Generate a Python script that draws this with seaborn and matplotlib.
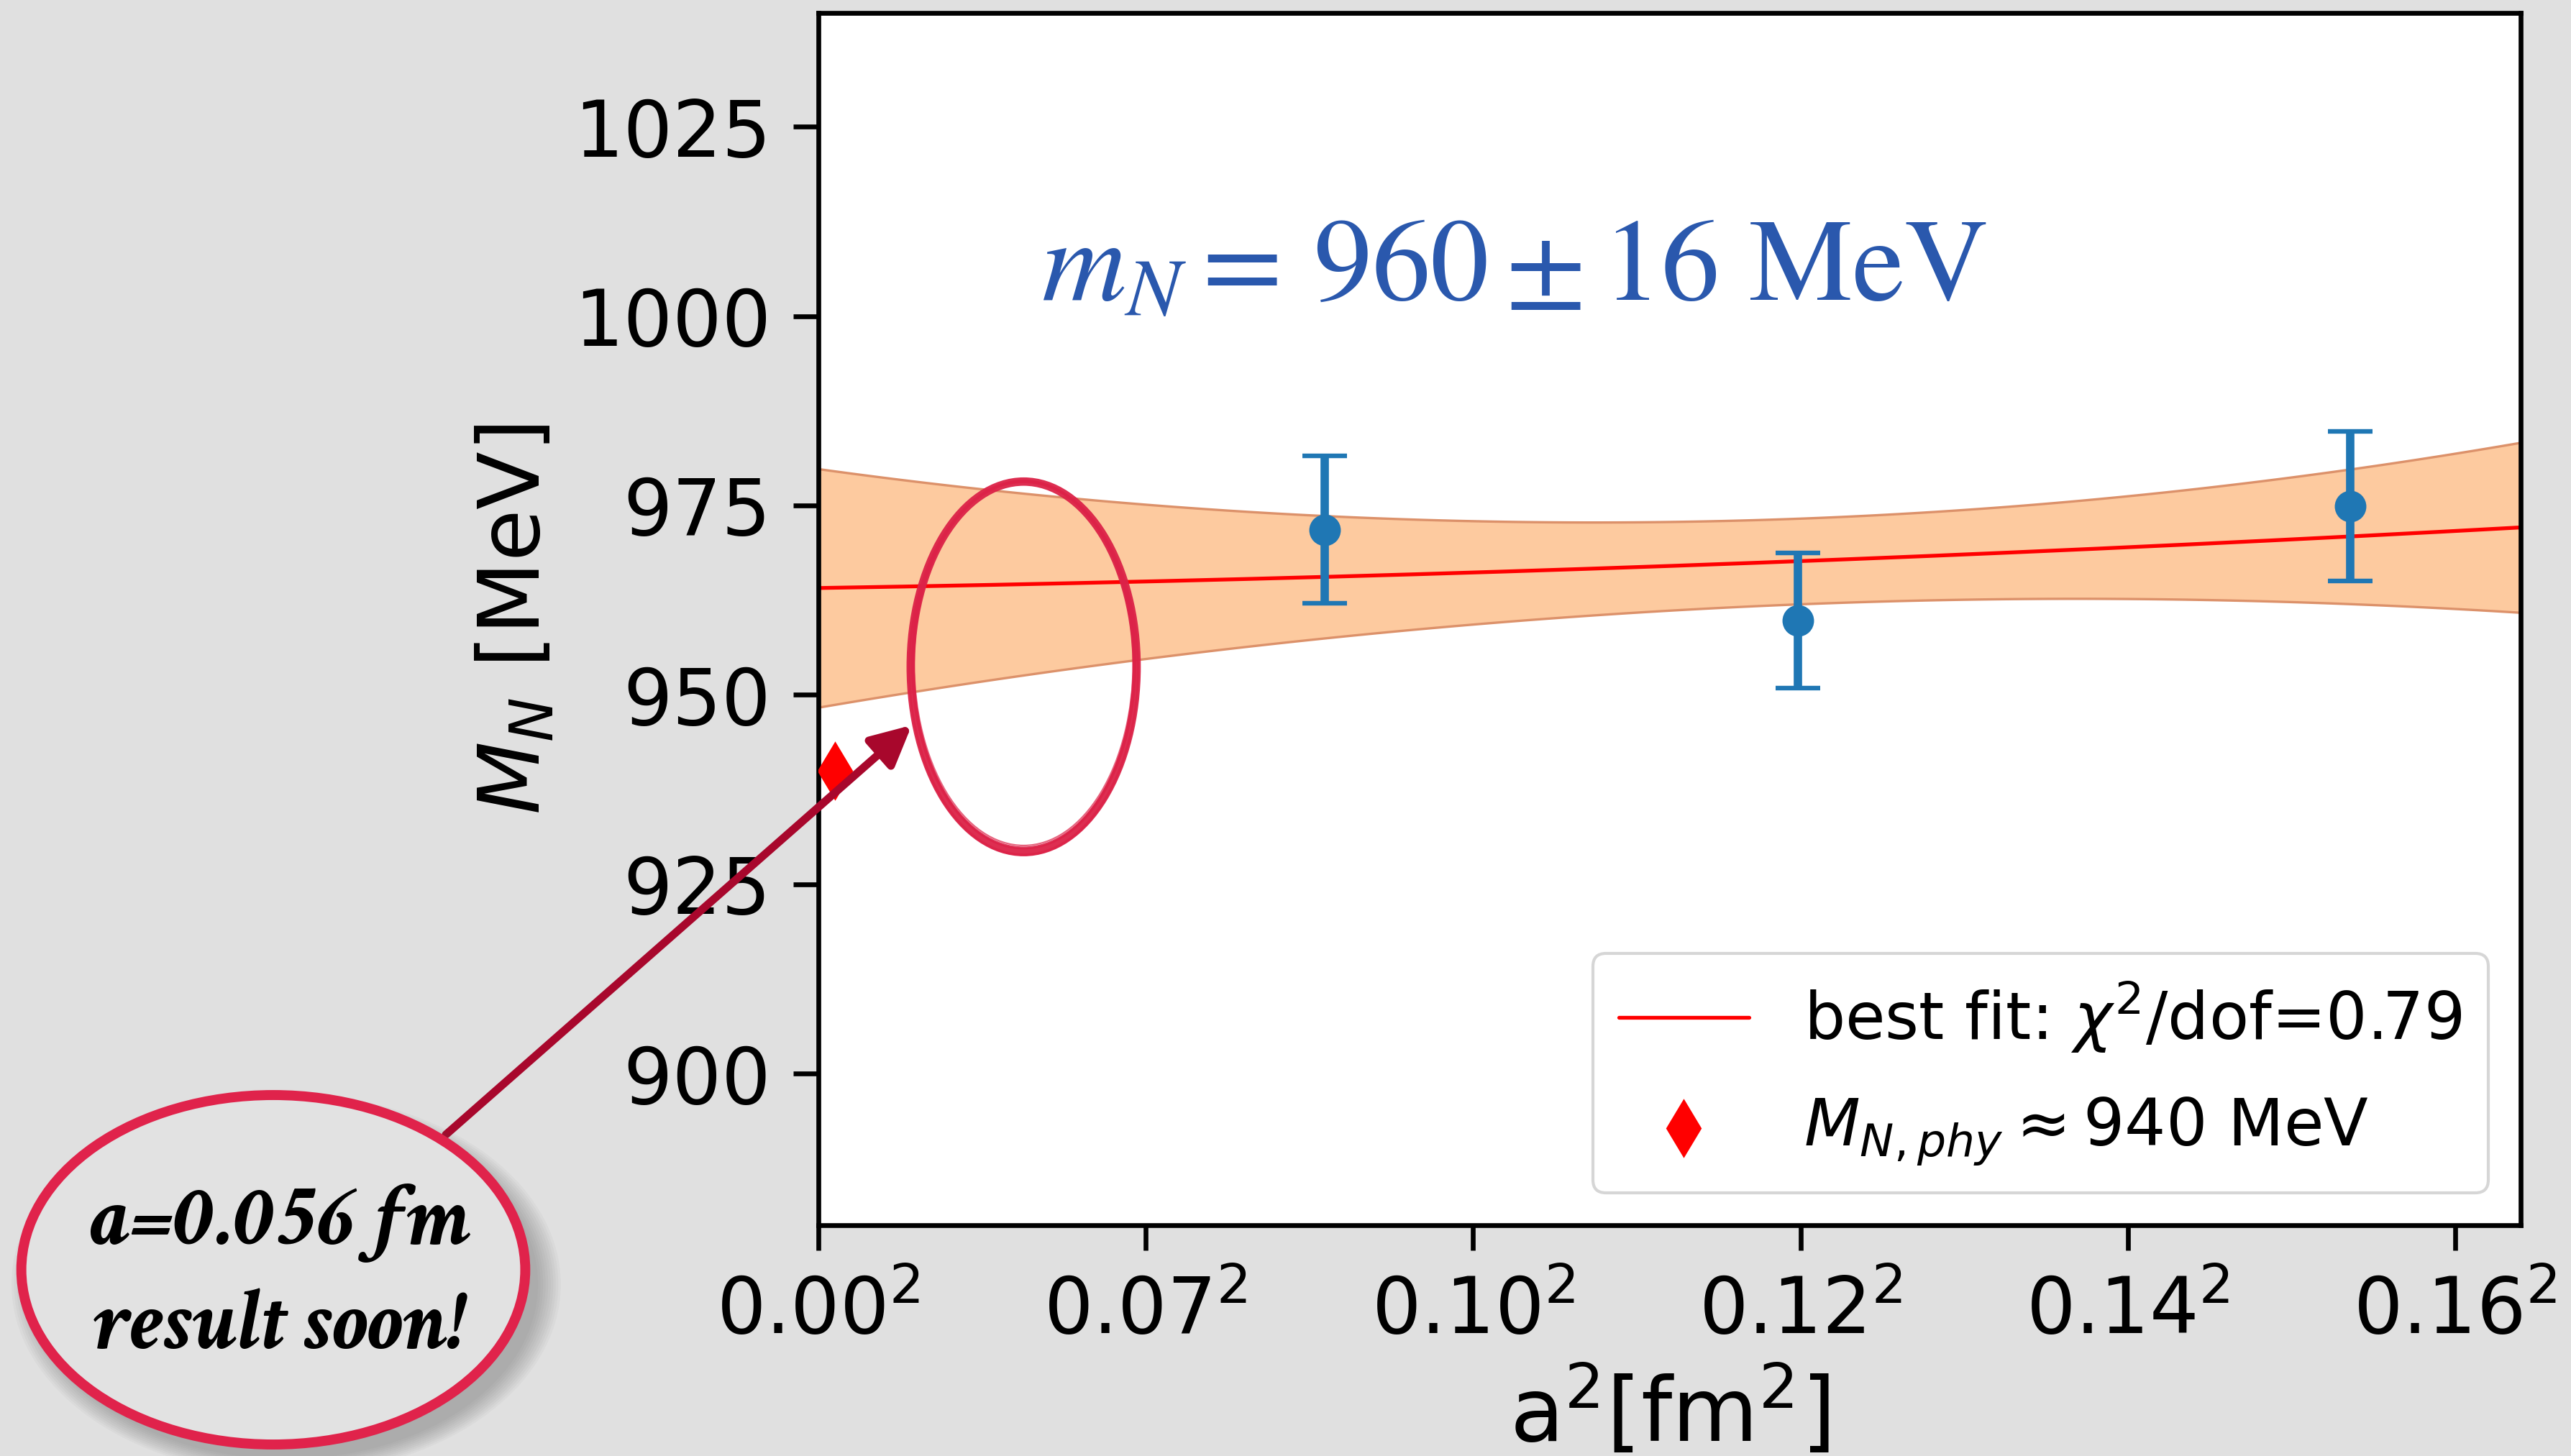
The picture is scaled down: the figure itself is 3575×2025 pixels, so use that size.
import numpy as np
import pandas as pd
import matplotlib
matplotlib.use("Agg")
import matplotlib.pyplot as plt
from matplotlib.patches import Ellipse
import seaborn as sns

# ---- lattice data: nucleon mass vs squared lattice spacing ----
a2_fm2 = [0.00773, 0.01496, 0.02340]        # a^2 [fm^2]
mass_mev = [971.8, 959.8, 974.9]             # M_N [MeV]
mass_err = [9.7, 8.9, 9.9]                   # statistical errors [MeV]

# physical nucleon mass marker
phys_a2 = [0.00025]
phys_mass = [940.0]

# continuum fit M(a^2) = c0 + c1*a^2 + c2*a^4 with its covariance
fit_params = [964.1, 140.5, 6426.0]
fit_cov = [[247.675, -20978.7, 0.0],
           [-20978.7, 3.1795e6, -5.98745e7],
           [0.0, -5.98745e7, 2.02296e9]]
fit_label = r"best fit: $\chi^2$/dof=0.79"
phys_label = r"$M_{N,phy} \approx 940$ MeV"
result_text = r"$m_N = \,960 \pm 16$ MeV"

# upcoming ensemble
new_spacing_fm = 0.056
callout_lines = ["a=0.056 fm", "result soon!"]

x_ticks = [0.0, 0.005, 0.010, 0.015, 0.020, 0.025]
x_tick_labels = ["0.00$^2$", "0.07$^2$", "0.10$^2$", "0.12$^2$", "0.14$^2$", "0.16$^2$"]
y_ticks = [900, 925, 950, 975, 1000, 1025]

BG = "#e0e0e0"
sns.set_theme(style="ticks", rc={
    "axes.edgecolor": "black", "axes.labelcolor": "black", "text.color": "black",
    "xtick.color": "black", "ytick.color": "black",
    "axes.linewidth": 2.4,
    "xtick.major.size": 12.6, "ytick.major.size": 12.6,
    "xtick.major.width": 2.4, "ytick.major.width": 2.4,
    "mathtext.fontset": "dejavusans",
})
plt.rcParams["font.family"] = ["DejaVu Sans"]

fig = plt.figure(figsize=(17.875, 10.125), dpi=200, facecolor=BG)
ax = fig.add_axes([0.3183, 0.1585, 0.6621, 0.8326])
ax.set_facecolor("white")

# fit curve and 1-sigma band
xs = np.linspace(0.0, 0.026, 400)
J = np.vstack([np.ones_like(xs), xs, xs ** 2]).T
mean = J @ np.array(fit_params)
var = np.einsum("ij,jk,ik->i", J, np.array(fit_cov), J)
sig = np.sqrt(np.clip(var, 0, None))
ax.fill_between(xs, mean - sig, mean + sig, facecolor="#fdca9f",
                edgecolor="#dc916a", linewidth=1.2, zorder=1)

fit_df = pd.DataFrame({"a2": xs, "mass": mean})
sns.lineplot(data=fit_df, x="a2", y="mass", color="red", linewidth=1.9,
             label=fit_label, ax=ax, zorder=2)

ax.errorbar(a2_fm2, mass_mev, yerr=mass_err, fmt="o", color="#1f77b4",
            markersize=14.8, elinewidth=4.2, capsize=11.3, capthick=2.3, zorder=3)

sns.scatterplot(x=phys_a2, y=phys_mass, marker="d", s=441, color="red",
                linewidth=0, label=phys_label, ax=ax, zorder=4)

ax.set_xlim(0.0, 0.026)
ax.set_ylim(880, 1040)
ax.set_xticks(x_ticks)
ax.set_xticklabels(x_tick_labels)
ax.set_yticks(y_ticks)
ax.tick_params(axis="both", labelsize=38.8)
ax.tick_params(axis="y", pad=11)
ax.tick_params(axis="x", pad=12)
ax.set_xlabel(r"a$^2$[fm$^2$]", fontsize=44.3, labelpad=8)
ax.set_ylabel(r"$M_N$ [MeV]", fontsize=42.5, labelpad=8)

handles, labels = ax.get_legend_handles_labels()
leg = ax.legend(handles, labels, loc="lower right", fontsize=32.5, framealpha=0.8,
                edgecolor="0.8", fancybox=True, borderaxespad=0.5, borderpad=0.4,
                labelspacing=0.62, handlelength=2.0, handletextpad=0.85,
                scatterpoints=1)
leg.get_frame().set_linewidth(1.5)

ax.text(0.131, 0.7633, result_text, transform=ax.transAxes, ha="left", va="baseline",
        fontsize=58.5, color="#2a58ad", family="STIXGeneral", math_fontfamily="stix")

# hand-drawn highlight around the a = 0.056 fm point
ring = "#dc2248"
cx, cy = new_spacing_fm ** 2, 953.7
for dw, dh, dy, lw, al in [(1.0, 1.0, 0.0, 4.2, 0.95),
                           (0.985, 0.99, 0.3, 1.4, 0.9),
                           (1.012, 1.006, -0.2, 1.1, 0.8),
                           (0.97, 0.985, 0.5, 0.8, 0.7)]:
    ax.add_patch(Ellipse((cx, cy + dy), 0.00345 * dw, 48.9 * dh, fill=False,
                         edgecolor=ring, linewidth=lw, alpha=al, zorder=6))

# callout bubble with soft shadow
cxf, cyf, wf, hf = 0.1063, 0.1279, 0.196, 0.24
for k in range(10):
    grow = 1.0 + 0.01 * k
    fig.add_artist(Ellipse((cxf + 0.005, cyf - 0.010), wf * grow, hf * grow,
                           transform=fig.transFigure, facecolor="#5a5a5a",
                           edgecolor="none", alpha=0.045, zorder=2))
fig.add_artist(Ellipse((cxf, cyf), wf, hf, transform=fig.transFigure,
                       facecolor="#e2e2e2", edgecolor="#e0234b", linewidth=5.0, zorder=3))
for dw, dh, lw, al in [(0.99, 0.985, 1.2, 0.8), (1.008, 1.01, 1.0, 0.7)]:
    fig.add_artist(Ellipse((cxf, cyf), wf * dw, hf * dh, transform=fig.transFigure,
                           fill=False, edgecolor="#e0234b", linewidth=lw, alpha=al, zorder=3))

callout_font = dict(ha="center", va="baseline", fontsize=44, family="Crimson Text",
                    weight="bold", style="italic", zorder=4)
fig.text(0.109, 0.1457, callout_lines[0], **callout_font)
fig.text(0.109, 0.0741, callout_lines[1], **callout_font)

# arrow from the bubble to the highlighted region
arr = ax.annotate("", xy=(0.001427, 946.0), xycoords="data",
                  xytext=(0.1734, 0.2207), textcoords="figure fraction",
                  arrowprops=dict(arrowstyle="-|>", color="#a8072c", lw=4.0,
                                  mutation_scale=42, shrinkA=0, shrinkB=0),
                  annotation_clip=False, zorder=7)
arr.arrow_patch.set_clip_on(False)

fig.savefig("out.png", dpi=200, facecolor=BG)
